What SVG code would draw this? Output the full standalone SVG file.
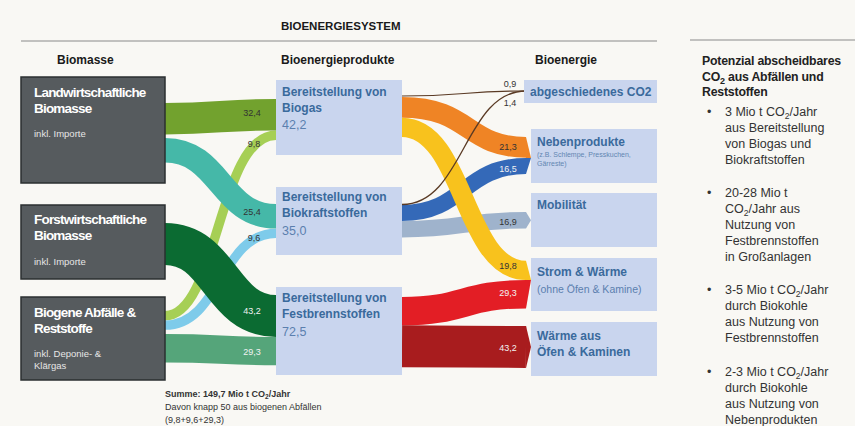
<svg xmlns="http://www.w3.org/2000/svg" width="855" height="426" viewBox="0 0 855 426">
<style>
text{font-family:"Liberation Sans",Arial,sans-serif;}
.hd{font-size:12px;font-weight:bold;fill:#1a1a1a;}
.ln{fill:#565b5e;stroke:#2b2f31;stroke-width:1.5;}
.lt{font-size:13.5px;font-weight:bold;fill:#fff;letter-spacing:-0.8px;}
.ls{font-size:9.5px;fill:#e6e6e6;}
.bn{fill:#c9d5ee;}
.bt{font-size:12px;font-weight:bold;fill:#3a6a9c;}
.bv{font-size:12.5px;fill:#5b7fae;}
.bs{font-size:7px;fill:#6286b2;}
.bm{font-size:10.5px;fill:#5b7fae;}
.band{fill:none;}
.fl{font-size:9px;text-anchor:middle;fill:#333;}
.fw{font-size:9px;text-anchor:middle;fill:#f2f2f2;}
.pt{font-size:12.3px;font-weight:bold;fill:#222;letter-spacing:-0.2px;}
.pb{font-size:12.5px;fill:#333;}
.sm{font-size:9px;fill:#333;}
</style>
<rect x="0" y="0" width="855" height="426" fill="#f9f8f4"/>
<text class="hd" x="281" y="30" style="font-size:11.5px">BIOENERGIESYSTEM</text>
<line x1="21" y1="41" x2="657" y2="41" stroke="#8a8a8a" stroke-width="1"/>
<line x1="690" y1="40" x2="855" y2="40" stroke="#8a8a8a" stroke-width="1"/>
<text class="hd" x="57" y="64">Biomasse</text>
<text class="hd" x="281" y="64">Bioenergieprodukte</text>
<text class="hd" x="535" y="64">Bioenergie</text>

<g id="connectors">
  <path class="band" stroke="#a6cf55" stroke-width="9.5" d="M165,315.8 C218,315.8 218,135.2 276,135.2"/>
  <path class="band" stroke="#7ecbea" stroke-width="9.3" d="M165,325.2 C220.5,325.2 220.5,233.3 276,233.3"/>
  <path class="band" stroke="#72a22e" stroke-width="31.4" d="M165,118.7 C220.5,118.7 220.5,114.7 276,114.7"/>
  <path class="band" stroke="#45b8a8" stroke-width="24.6" d="M165,150.3 C220.5,150.3 220.5,216.3 276,216.3"/>
  <path class="band" stroke="#0b6b32" stroke-width="41.9" d="M165,244 C220.5,244 220.5,316 276,316"/>
  <path class="band" stroke="#55a57a" stroke-width="28.4" d="M165,348.2 C220.5,348.2 220.5,351.1 276,351.1"/>

  <path class="band" stroke="#9fb3cc" stroke-width="16.4" d="M402,229.2 C464,229.2 464,220.2 526,220.2"/>
  <polygon fill="#9fb3cc" points="526,212 531,220.2 526,228.4"/>
  <path class="band" stroke="#3469b8" stroke-width="16" d="M402,213 C464,213 464,166 526,166"/>
  <polygon fill="#3469b8" points="526,158 531,158 526,174"/>
  <path class="band" stroke="#e31e25" stroke-width="28.4" d="M402,311.2 C464,311.2 464,294.2 526,294.2"/>
  <polygon fill="#e31e25" points="526,280 531,280 526,308.4"/>
  <path class="band" stroke="#a81c1e" stroke-width="41.9" d="M402,346.3 C464,346.3 464,347 526,347"/>
  <polygon fill="#a81c1e" points="526,326 531,347 526,367.9"/>
  <path class="band" stroke="#ef8425" stroke-width="20.7" d="M402,107.3 C470,107.3 466,147.3 526,147.3"/>
  <polygon fill="#ef8425" points="526,137 531,158 526,158"/>
  <path class="band" stroke="#f8c21d" stroke-width="19.2" d="M402,127.3 C464,127.3 464,270.4 526,270.4"/>
  <polygon fill="#f8c21d" points="526,260.8 531,280 526,280"/>
  <path class="band" stroke="#5a3a24" stroke-width="1.2" d="M402,96 C464,96 464,91 526,91"/>
  <path class="band" stroke="#5a3a24" stroke-width="1.3" d="M402,204.5 C464,204.5 464,91 526,91"/>

  <text class="fl" x="252" y="116">32,4</text>
  <text class="fl" x="254" y="147">9,8</text>
  <text class="fl" x="252" y="215">25,4</text>
  <text class="fl" x="254" y="241">9,6</text>
  <text class="fw" x="252" y="314">43,2</text>
  <text class="fw" x="252" y="355">29,3</text>
  <text class="fl" x="510" y="87">0,9</text>
  <text class="fl" x="510" y="106">1,4</text>
  <text class="fl" x="508" y="150">21,3</text>
  <text class="fw" x="508" y="172">16,5</text>
  <text class="fl" x="508" y="225">16,9</text>
  <text class="fl" x="508" y="269">19,8</text>
  <text class="fw" x="508" y="296">29,3</text>
  <text class="fw" x="508" y="351">43,2</text>
</g>

<g id="landwirtschaft">
  <rect class="ln" x="21" y="77" width="144" height="106"/>
  <text class="lt" x="34" y="97">Landwirtschaftliche</text>
  <text class="lt" x="34" y="113">Biomasse</text>
  <text class="ls" x="34" y="137">inkl. Importe</text>
</g>
<g id="forstwirtschaft">
  <rect class="ln" x="21" y="205" width="144" height="74"/>
  <text class="lt" x="34" y="224">Forstwirtschaftliche</text>
  <text class="lt" x="34" y="240">Biomasse</text>
  <text class="ls" x="34" y="265">inkl. Importe</text>
</g>
<g id="abfaelle">
  <rect class="ln" x="21" y="297" width="144" height="83"/>
  <text class="lt" x="34" y="317">Biogene Abfälle &amp;</text>
  <text class="lt" x="34" y="333">Reststoffe</text>
  <text class="ls" x="34" y="357">inkl. Deponie- &amp;</text>
  <text class="ls" x="34" y="369">Klärgas</text>
</g>

<g id="biogas">
  <rect class="bn" x="276" y="80" width="126" height="75"/>
  <text class="bt" x="282" y="96">Bereitstellung von</text>
  <text class="bt" x="282" y="112">Biogas</text>
  <text class="bv" x="282" y="129">42,2</text>
</g>
<g id="biokraftstoffe">
  <rect class="bn" x="276" y="187" width="126" height="68"/>
  <text class="bt" x="282" y="201">Bereitstellung von</text>
  <text class="bt" x="282" y="217">Biokraftstoffen</text>
  <text class="bv" x="282" y="235">35,0</text>
</g>
<g id="festbrennstoffe">
  <rect class="bn" x="276" y="287" width="126" height="88"/>
  <text class="bt" x="282" y="302">Bereitstellung von</text>
  <text class="bt" x="282" y="318">Festbrennstoffen</text>
  <text class="bv" x="282" y="336">72,5</text>
</g>

<g id="co2">
  <rect class="bn" x="524" y="80" width="133" height="23"/>
  <text class="bt" x="530" y="96">abgeschiedenes CO2</text>
</g>
<g id="nebenprodukte">
  <rect class="bn" x="531" y="129" width="126" height="54"/>
  <text class="bt" x="537" y="146">Nebenprodukte</text>
  <text class="bs" x="537" y="157">(z.B. Schlempe, Presskuchen,</text>
  <text class="bs" x="537" y="166">Gärreste)</text>
</g>
<g id="mobilitaet">
  <rect class="bn" x="531" y="193" width="126" height="54"/>
  <text class="bt" x="537" y="209">Mobilität</text>
</g>
<g id="strom">
  <rect class="bn" x="531" y="258" width="126" height="53"/>
  <text class="bt" x="537" y="276">Strom &amp; Wärme</text>
  <text class="bm" x="537" y="293">(ohne Öfen &amp; Kamine)</text>
</g>
<g id="waerme">
  <rect class="bn" x="531" y="322" width="126" height="54"/>
  <text class="bt" x="537" y="340">Wärme aus</text>
  <text class="bt" x="537" y="356">Öfen &amp; Kaminen</text>
</g>

<g id="summe">
  <text class="sm" x="165" y="397" font-weight="bold" fill="#111">Summe: 149,7 Mio t CO<tspan font-size="6.5" dy="2">2</tspan><tspan dy="-2">/Jahr</tspan></text>
  <text class="sm" x="165" y="410">Davon knapp 50 aus biogenen Abfällen</text>
  <text class="sm" x="165" y="423">(9,8+9,6+29,3)</text>
</g>

<g id="panel">
  <text class="pt" x="702" y="65">Potenzial abscheidbares</text>
  <text class="pt" x="702" y="81">CO<tspan font-size="9" dy="3">2</tspan><tspan dy="-3"> aus Abfällen und</tspan></text>
  <text class="pt" x="702" y="96">Reststoffen</text>
  <g class="pb">
    <text class="pb" x="707" y="116">•</text>
    <text class="pb" x="725" y="116">3 Mio t CO<tspan font-size="8.5" dy="3">2</tspan><tspan dy="-3">/Jahr</tspan></text>
    <text class="pb" x="725" y="132">aus Bereitstellung</text>
    <text class="pb" x="725" y="148">von Biogas und</text>
    <text class="pb" x="725" y="164">Biokraftstoffen</text>
    <text class="pb" x="707" y="197">•</text>
    <text class="pb" x="725" y="197">20-28 Mio t</text>
    <text class="pb" x="725" y="213">CO<tspan font-size="8.5" dy="3">2</tspan><tspan dy="-3">/Jahr aus</tspan></text>
    <text class="pb" x="725" y="229">Nutzung von</text>
    <text class="pb" x="725" y="245">Festbrennstoffen</text>
    <text class="pb" x="725" y="261">in Großanlagen</text>
    <text class="pb" x="707" y="294">•</text>
    <text class="pb" x="725" y="294">3-5 Mio t CO<tspan font-size="8.5" dy="3">2</tspan><tspan dy="-3">/Jahr</tspan></text>
    <text class="pb" x="725" y="310">durch Biokohle</text>
    <text class="pb" x="725" y="326">aus Nutzung von</text>
    <text class="pb" x="725" y="342">Festbrennstoffen</text>
    <text class="pb" x="707" y="376">•</text>
    <text class="pb" x="725" y="376">2-3 Mio t CO<tspan font-size="8.5" dy="3">2</tspan><tspan dy="-3">/Jahr</tspan></text>
    <text class="pb" x="725" y="392">durch Biokohle</text>
    <text class="pb" x="725" y="408">aus Nutzung von</text>
    <text class="pb" x="725" y="424">Nebenprodukten</text>
  </g>
</g>
</svg>
